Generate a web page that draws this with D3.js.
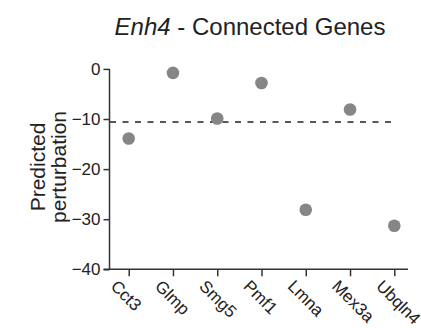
<!DOCTYPE html>
<html>
  <head>
    <meta charset="utf-8">
    <style>
      body { margin: 0; background: #fff; }
      svg { font-family: "Liberation Sans", Arial, sans-serif; }
      .axis path, .axis line { stroke: #333; stroke-width: 1.5px; }
      .axis text { fill: #222; font-size: 17px; }
    </style>
  </head>
  <body>
    <svg id="chart"></svg>
    <script src="https://cdnjs.cloudflare.com/ajax/libs/d3/7.8.5/d3.min.js"></script>
    <script>
      var genes = ["Cct3", "Glmp", "Smg5", "Pmf1", "Lmna", "Mex3a", "Ubqln4"];
      var perturbation = [-13.9, -0.8, -9.9, -2.8, -28.1, -8.1, -31.3];
      var yTicks = [0, -10, -20, -30, -40];
      var threshold = -10.6;

      var width = 421, height = 328;
      var svg = d3.select("#chart").attr("width", width).attr("height", height);

      var y = d3.scaleLinear().domain([-40, 0]).range([269.3, 68.9]);
      var x = d3.scalePoint().domain(genes).range([128.7, 394.3]);

      // title
      var title = svg.append("text")
        .attr("x", 250).attr("y", 34.5)
        .attr("text-anchor", "middle")
        .style("font-size", "24px").style("fill", "#222");
      title.append("tspan").style("font-style", "italic").text("Enh4");
      title.append("tspan").text(" - Connected Genes");

      // y axis
      var yAxis = svg.append("g").attr("class", "axis")
        .attr("transform", "translate(109.5,0)")
        .call(d3.axisLeft(y).tickValues(yTicks).tickSize(6).tickPadding(3).tickSizeOuter(0));
      yAxis.select(".domain").attr("d", "M0," + y(0) + "V" + y(-40));

      // x axis
      var xAxis = svg.append("g").attr("class", "axis")
        .attr("transform", "translate(0," + y(-40) + ")")
        .call(d3.axisBottom(x).tickSize(7).tickSizeOuter(0));
      xAxis.select(".domain").attr("d", "M103.5,0H408");
      xAxis.selectAll(".tick text")
        .attr("x", 0).attr("y", 0).attr("dy", "0.71em")
        .attr("text-anchor", "start")
        .attr("transform", "translate(-11,9.5) rotate(45)");

      // threshold line
      svg.append("line")
        .attr("x1", 110).attr("x2", 396)
        .attr("y1", y(threshold)).attr("y2", y(threshold))
        .style("stroke", "#222").style("stroke-width", 1.6)
        .style("stroke-dasharray", "6,6.5");

      // dots
      svg.selectAll(".dot").data(genes).enter().append("circle")
        .attr("class", "dot")
        .attr("cx", function(d) { return x(d); })
        .attr("cy", function(d, i) { return y(perturbation[i]); })
        .attr("r", 6.3)
        .style("fill", "#868686");

      // y label
      var ylab = svg.append("text")
        .attr("transform", "translate(45,167) rotate(-90)")
        .attr("text-anchor", "middle")
        .style("font-size", "21px").style("fill", "#222");
      ylab.append("tspan").attr("x", 0).attr("y", 0).text("Predicted");
      ylab.append("tspan").attr("x", 0).attr("y", 21).text("perturbation");
    </script>
  </body>
</html>
